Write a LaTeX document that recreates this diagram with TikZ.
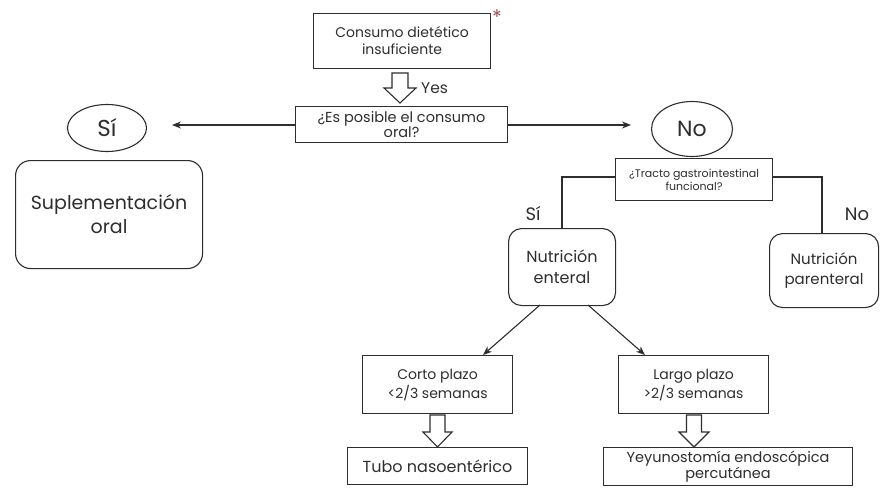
\documentclass[tikz,border=0pt]{standalone}
\usepackage{fontspec}
\setmainfont{Poppins}
\usetikzlibrary{shapes.geometric,arrows.meta}
\definecolor{ink}{HTML}{2E2E2E}
\definecolor{star}{HTML}{A0524F}
\begin{document}
\begin{tikzpicture}[x=1pt,y=-1pt,
  box/.style={draw=ink,line width=1.1pt,text=ink,align=center,inner sep=0pt,anchor=north west},
  rbox/.style={box,rounded corners=13pt},
  oval/.style={draw=ink,line width=1.1pt,ellipse,text=ink,inner sep=0pt},
  conn/.style={draw=ink,line width=1.1pt},
  arr/.style={conn,-{Stealth[length=9pt,width=7pt]}},
  hollow/.style={draw=ink,line width=1.1pt,fill=white,line join=miter},
  lbl/.style={text=ink,inner sep=0pt}
]
\useasboundingbox (0,0) rectangle (883,487);
\fill[white] (0,0) rectangle (883,487);

% top box
\node[box,minimum width=177pt,minimum height=55pt,font=\fontsize{14}{17}\selectfont] (top) at (313,13) {Consumo dietético\\insuficiente};
\node[text=star,font=\fontsize{20}{20}\selectfont,inner sep=0pt,anchor=north] (ast) at (497,10) {*};

% hollow arrow top
\draw[hollow] (392,73) -- (408,73) -- (408,88) -- (416,88) -- (400,103) -- (384,88) -- (392,88) -- cycle;
\node[lbl,anchor=west,font=\fontsize{15.5}{15.5}\selectfont,text=ink] (yes) at (421,88) {Yes};

% oral question
\node[box,minimum width=212pt,minimum height=36pt,font=\fontsize{14.5}{15}\selectfont] (oral) at (295,106) {¿Es posible el consumo\\oral?};

% Si / No ellipses
\node[oval,minimum width=79pt,minimum height=47pt,font=\fontsize{23}{23}\selectfont] (si) at (107,128) {Sí};
\node[oval,minimum width=81pt,minimum height=55pt,font=\fontsize{22}{22}\selectfont] (no) at (692,129) {No};
\coordinate (siEnd) at (172,125);
\coordinate (noEnd) at (631,125);
\draw[arr] (oral.west |- siEnd) -- (siEnd);
\draw[arr] (oral.east |- noEnd) -- (noEnd);

% suplementacion
\node[rbox,rounded corners=15pt,minimum width=187pt,minimum height=108pt,font=\fontsize{19}{24}\selectfont] (sup) at (15,160) {Suplementación\\oral};

% tracto
\node[box,minimum width=157pt,minimum height=42pt,font=\fontsize{11}{13}\selectfont] (tracto) at (615,158) {¿Tracto gastrointestinal\\funcional?};

% enteral / parenteral
\node[rbox,minimum width=107pt,minimum height=77pt,font=\fontsize{16}{21}\selectfont] (ent) at (508,228) {Nutrición\\enteral};
\node[rbox,minimum width=109pt,minimum height=74pt,font=\fontsize{15}{20}\selectfont] (par) at (769,233) {Nutrición\\parenteral};

\draw[conn] (tracto.west |- 0,177) -- (562,177) -- (562,228);
\draw[conn] (tracto.east |- 0,177) -- (822,177) -- (822,233);
\node[lbl,font=\fontsize{18}{18}\selectfont] (siLbl) at (533,214) {Sí};
\node[lbl,font=\fontsize{18}{18}\selectfont] (noLbl) at (857,214) {No};

% corto / largo
\node[box,minimum width=150pt,minimum height=58pt,font=\fontsize{14}{19}\selectfont] (corto) at (362,355) {Corto plazo\\<2/3 semanas};
\node[box,minimum width=150pt,minimum height=58pt,font=\fontsize{14}{19}\selectfont] (largo) at (618,355) {Largo plazo\\>2/3 semanas};
\coordinate (entL) at (540,305);
\coordinate (entR) at (588,305);
\draw[arr] (entL) -- (483,355);
\draw[arr] (entR) -- (645,355);

% hollow arrows lower
\draw[hollow] (430,415) -- (445,415) -- (445,432) -- (452,432) -- (437.5,447) -- (423,432) -- (430,432) -- cycle;
\draw[hollow] (686.5,415) -- (701.5,415) -- (701.5,432) -- (709,432) -- (694,447) -- (679,432) -- (686.5,432) -- cycle;

% bottom boxes
\node[box,minimum width=180pt,minimum height=37pt,font=\fontsize{16}{16}\selectfont] (tubo) at (347,447) {Tubo nasoentérico};
\node[box,minimum width=249pt,minimum height=38pt,font=\fontsize{14.5}{16}\selectfont] (yey) at (603,447) {Yeyunostomía endoscópica\\percutánea};
\end{tikzpicture}
\end{document}
